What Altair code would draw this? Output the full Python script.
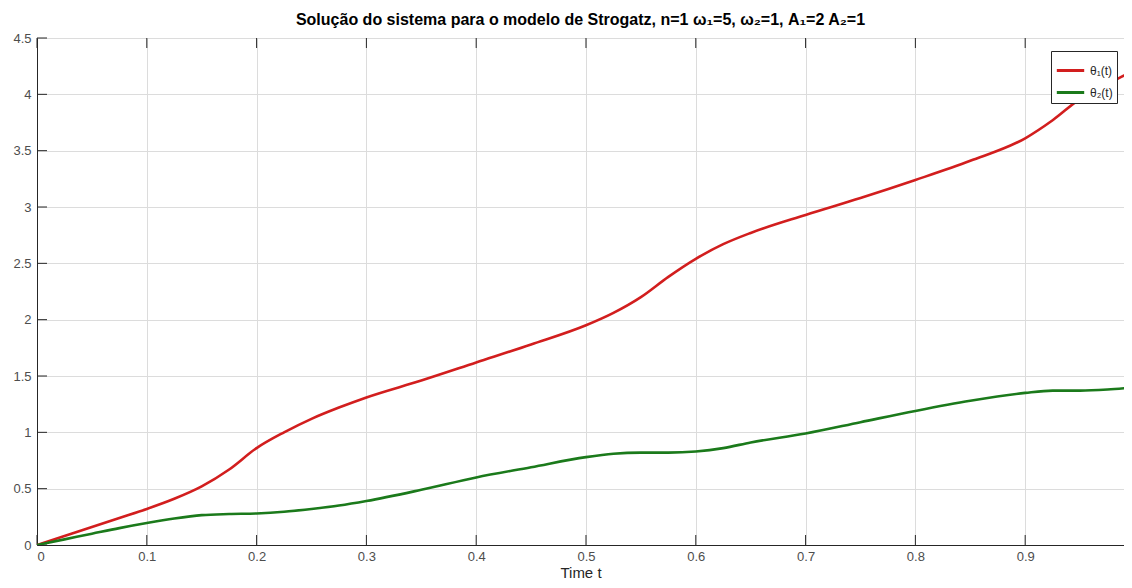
import altair as alt
import pandas as pd

t = [0, 0.025, 0.05, 0.075, 0.1, 0.125, 0.15, 0.175, 0.2, 0.225, 0.25, 0.275,
     0.3, 0.35, 0.4, 0.45, 0.5, 0.525, 0.55, 0.575, 0.6, 0.625, 0.65, 0.7,
     0.75, 0.8, 0.85, 0.9, 0.925, 0.95, 0.975, 1.0]
theta1 = [0, 0.08, 0.16, 0.24, 0.32, 0.41, 0.52, 0.67, 0.86, 1.00, 1.12, 1.22,
          1.31, 1.46, 1.62, 1.78, 1.95, 2.06, 2.20, 2.38, 2.54, 2.67, 2.77, 2.93,
          3.08, 3.24, 3.41, 3.61, 3.77, 3.96, 4.09, 4.22]
theta2 = [0, 0.05, 0.10, 0.15, 0.195, 0.235, 0.265, 0.275, 0.28, 0.295, 0.32, 0.35,
          0.39, 0.49, 0.60, 0.69, 0.78, 0.81, 0.82, 0.82, 0.83, 0.86, 0.91, 0.99,
          1.09, 1.19, 1.28, 1.35, 1.37, 1.37, 1.38, 1.40]
series_names = ["θ₁(t)", "θ₂(t)"]
series_colors = ["#d21e1e", "#1b7a1b"]
x_ticks = [0, 0.1, 0.2, 0.3, 0.4, 0.5, 0.6, 0.7, 0.8, 0.9]
y_ticks = [0, 0.5, 1, 1.5, 2, 2.5, 3, 3.5, 4, 4.5]
title_text = "Solução do sistema para o modelo de Strogatz, n=1 ω₁=5, ω₂=1, A₁=2 A₂=1"

W, H = 1087, 507

df = pd.DataFrame({
    "t": t * 2,
    "value": theta1 + theta2,
    "serie": [series_names[0]] * len(t) + [series_names[1]] * len(t),
})
xt = pd.DataFrame({"t": x_ticks})
yt = pd.DataFrame({"value": y_ticks})

xscale = alt.Scale(domain=[0, 0.99], nice=False, zero=False)
yscale = alt.Scale(domain=[0, 4.5], nice=False)

lines = alt.Chart(df).mark_line(strokeWidth=2.6, interpolate="monotone", clip=True).encode(
    x=alt.X("t:Q", scale=xscale, title="Time t",
            axis=alt.Axis(values=x_ticks, format="~g", tickSize=0, labelPadding=5,
                          grid=True, titlePadding=2)),
    y=alt.Y("value:Q", scale=yscale, title=None,
            axis=alt.Axis(values=y_ticks, format="~g", tickSize=0, labelPadding=6,
                          grid=True)),
    color=alt.Color("serie:N", scale=alt.Scale(domain=series_names, range=series_colors),
                    legend=alt.Legend(title=None, orient="none", legendX=1014, legendY=13,
                                      symbolType="stroke", symbolSize=750,
                                      symbolStrokeWidth=3, labelFontSize=12,
                                      labelColor="#262626", labelOffset=4,
                                      rowPadding=0, padding=4,
                                      strokeColor="#262626", fillColor="white")),
)

bottom_ticks = alt.Chart(xt).mark_rule(color="#262626", strokeWidth=1).encode(
    x=alt.X("t:Q", scale=xscale, title="Time t"),
    y=alt.value(H), y2=alt.value(H - 10),
)
top_ticks = alt.Chart(xt).mark_rule(color="#262626", strokeWidth=1).encode(
    x=alt.X("t:Q", scale=xscale, title="Time t"),
    y=alt.value(0), y2=alt.value(10),
)
left_ticks = alt.Chart(yt).mark_rule(color="#262626", strokeWidth=1).encode(
    y=alt.Y("value:Q", scale=yscale, title=None),
    x=alt.value(0), x2=alt.value(10),
)

chart = alt.layer(bottom_ticks, top_ticks, left_ticks, lines).properties(
    width=W, height=H,
    title=alt.TitleParams(title_text, fontSize=16, fontWeight="bold", color="#000000",
                          font="Liberation Sans", offset=4),
    autosize=alt.AutoSizeParams(type="none"),
    padding={"left": 29, "top": 30, "right": 0, "bottom": 35},
    background="white",
).configure_view(
    stroke="#262626", strokeWidth=1,
).configure_axis(
    domainColor="#262626", labelColor="#4d4d4d", labelFontSize=13,
    labelFont="Liberation Sans", titleFont="Liberation Sans", titleFontSize=15,
    titleColor="#262626", titleFontWeight="normal", gridColor="#dcdcdc", gridWidth=1,
).configure_legend(labelFont="Liberation Sans")

chart.save("out.html", embed_options={"renderer": "svg", "actions": False})
